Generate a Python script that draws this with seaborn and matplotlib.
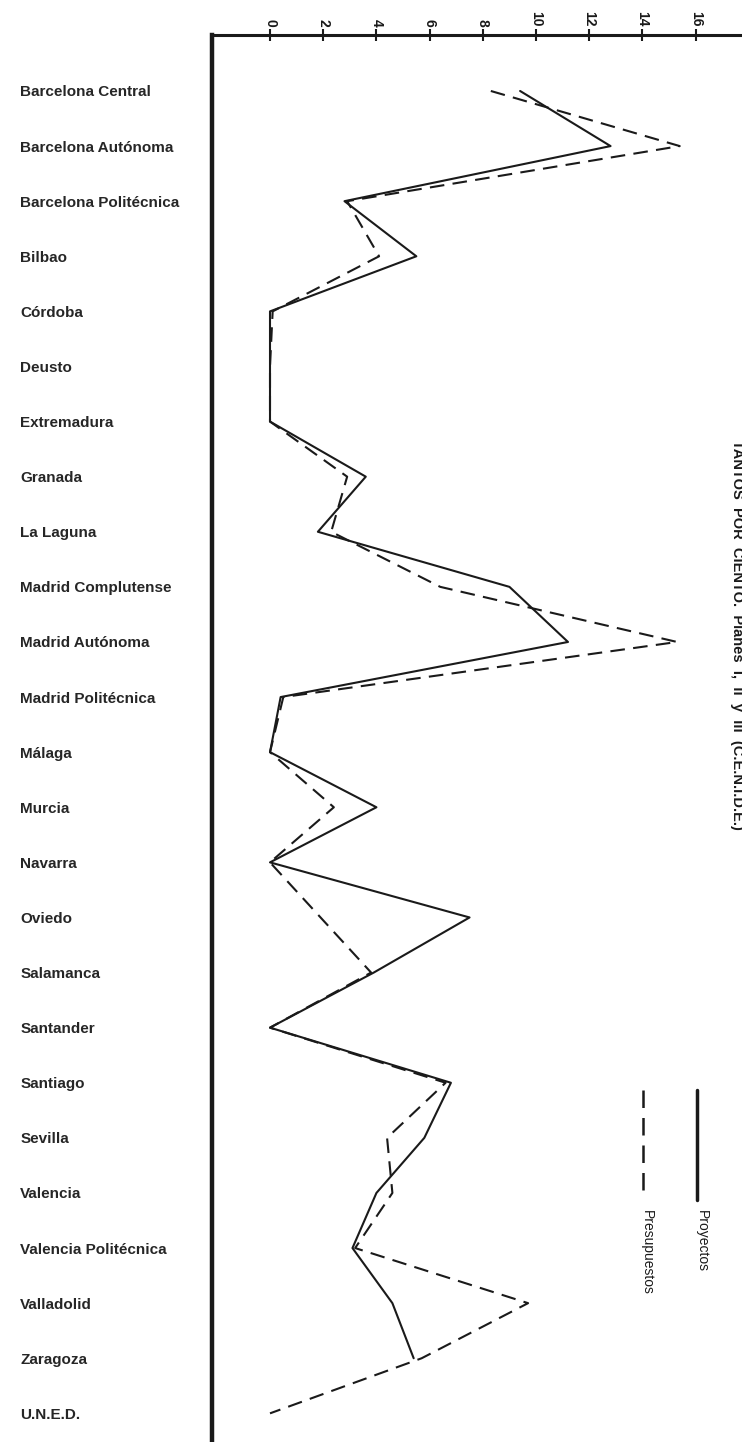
import numpy as np
import pandas as pd
import matplotlib
matplotlib.use("Agg")
import matplotlib.pyplot as plt
import seaborn as sns
from matplotlib.lines import Line2D

# Universidades (orden del gráfico, de arriba abajo)
universidades = [
    "Barcelona Central", "Barcelona Autónoma", "Barcelona Politécnica", "Bilbao",
    "Córdoba", "Deusto", "Extremadura", "Granada", "La Laguna",
    "Madrid Complutense", "Madrid Autónoma", "Madrid Politécnica", "Málaga",
    "Murcia", "Navarra", "Oviedo", "Salamanca", "Santander", "Santiago",
    "Sevilla", "Valencia", "Valencia Politécnica", "Valladolid", "Zaragoza",
    "U.N.E.D.",
]

# Tantos por ciento
proyectos = [9.4, 12.8, 2.8, 5.5, 0.0, 0.0, 0.0, 3.6, 1.8, 9.0, 11.2, 0.4, 0.0,
             4.0, 0.0, 7.5, 3.9, 0.0, 6.8, 5.8, 4.0, 3.1, 4.6, 5.4, np.nan]
presupuestos = [8.3, 15.4, 2.9, 4.1, 0.1, 0.0, 0.0, 2.9, 2.3, 6.4, 15.3, 0.5, 0.0,
                2.4, 0.0, 1.9, 3.8, 0.0, 6.6, 4.4, 4.6, 3.2, 9.7, 5.7, 0.0]

xticks = [0, 2, 4, 6, 8, 10, 12, 14, 16]

df = pd.DataFrame({"pos": np.arange(len(universidades)),
                   "Proyectos": proyectos,
                   "Presupuestos": presupuestos})

sns.set_style("white")
plt.rcParams["font.family"] = ["Liberation Sans", "DejaVu Sans"]

fig = plt.figure(figsize=(7.42, 14.42), dpi=100)
ax = fig.add_axes([212 / 742, 0.0, 530 / 742, 1407 / 1442])

sns.lineplot(data=df, x="Proyectos", y="pos", sort=False, orient="y",
             color="#1a1a1a", linewidth=1.5, ax=ax)
sns.lineplot(data=df, x="Presupuestos", y="pos", sort=False, orient="y",
             color="#1a1a1a", linewidth=1.5, dashes=False, ax=ax)
ax.lines[-1].set_dashes((7, 4))

ax.set_xlim(-2.18, 17.74)
ax.set_ylim(24.52, -1.016)

# eje superior con marcas
ax.xaxis.tick_top()
ax.set_xticks(xticks)
ax.set_xticklabels([str(t) for t in xticks], rotation=-90, fontsize=10,
                   fontweight="bold")
ax.tick_params(axis="x", direction="inout", length=8, width=1.5, pad=2,
               colors="#1a1a1a")

ax.set_yticks(df["pos"])
ax.set_yticklabels(universidades, fontsize=11, fontweight="bold", ha="left")
ax.tick_params(axis="y", length=0, pad=138)

ax.set_xlabel("")
ax.set_ylabel("")
for s in ["right", "bottom"]:
    ax.spines[s].set_visible(False)
ax.spines["top"].set_linewidth(2.2)
ax.spines["left"].set_linewidth(3.2)
ax.spines["top"].set_color("#1a1a1a")
ax.spines["left"].set_color("#1a1a1a")

# titulo vertical a la derecha
fig.text(737 / 742, 1 - 440 / 1442,
         "TANTOS  POR  CIENTO.  Planes  I,  II  y  III  (C.E.N.I.D.E.)",
         rotation=-90, ha="center", va="top", fontsize=10.5, fontweight="bold",
         color="#1a1a1a")

# leyenda dibujada en vertical
fig.add_artist(Line2D([697 / 742, 697 / 742], [1 - 1090 / 1442, 1 - 1200 / 1442],
                      color="#1a1a1a", linewidth=2.5, transform=fig.transFigure))
fig.add_artist(Line2D([643 / 742, 643 / 742], [1 - 1090 / 1442, 1 - 1200 / 1442],
                      color="#1a1a1a", linewidth=1.8, dashes=(7, 4),
                      transform=fig.transFigure))
fig.text(702 / 742, 1 - 1210 / 1442, "Proyectos", rotation=-90, ha="center",
         va="top", fontsize=10, color="#1a1a1a")
fig.text(647 / 742, 1 - 1210 / 1442, "Presupuestos", rotation=-90, ha="center",
         va="top", fontsize=10, color="#1a1a1a")

fig.savefig("out.png", dpi=100)
